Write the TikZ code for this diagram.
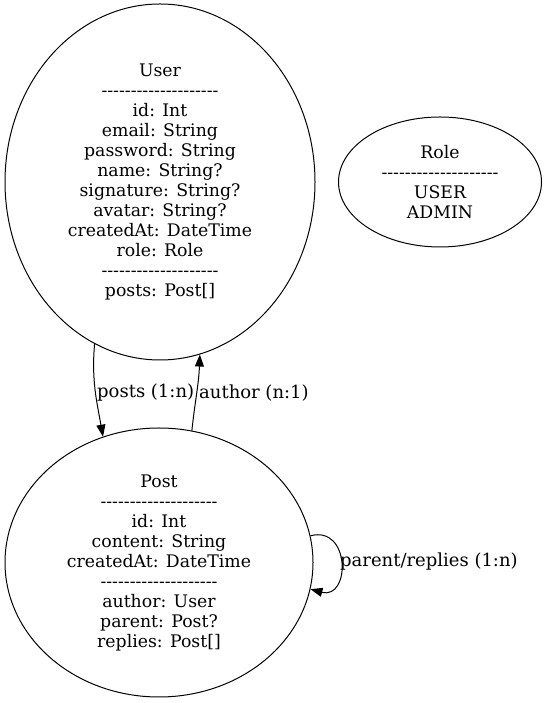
\documentclass[tikz,border=0pt]{standalone}
\usepackage{fontspec}
\setmainfont{DejaVu Serif}[Ligatures=TeXOff]
\usetikzlibrary{arrows.meta, shapes.geometric}
\newcommand{\sepline}{--------------------}
\tikzset{
    entity/.style={ellipse, draw, line width=1pt, inner sep=0pt, align=center, font=\fontsize{17.3}{20}\selectfont},
    rel/.style={-{Triangle[length=12pt, width=9pt]}, line width=1pt},
    lbl/.style={inner sep=0pt, anchor=west, font=\fontsize{18}{20}\selectfont},
}
\begin{document}
\begin{tikzpicture}[x=1pt, y=1pt]
    \useasboundingbox (0,0) rectangle (546,703);

    % Tabelle
    \node[entity, minimum width=310, minimum height=356] (user) at (160,521)
        {User\\\sepline\\id: Int\\email: String\\password: String\\name: String?\\signature: String?\\avatar: String?\\createdAt: DateTime\\role: Role\\\sepline\\posts: Post[]};
    \node[entity, minimum width=203, minimum height=130] (role) at (440,521)
        {Role\\\sepline\\USER\\ADMIN};
    \node[entity, minimum width=308, minimum height=269] (post) at (159,140.5)
        {Post\\\sepline\\id: Int\\content: String\\createdAt: DateTime\\\sepline\\author: User\\parent: Post?\\replies: Post[]};

    % Relazioni
    \draw[rel] (user.248) to[out=265, in=100] (post.114);
    \draw[rel] (post.76) to[out=84, in=268] (user.283);
    \draw[rel] (post.10) to[out=15, in=-15, looseness=2] (post.-10);

    % Etichette
    \node[lbl] (lposts) at (97,310) {posts (1:n)};
    \node[lbl] (lauthor) at (199,310) {author (n:1)};
    \node[lbl] (lreplies) at (340,141) {parent/replies (1:n)};
\end{tikzpicture}
\end{document}
